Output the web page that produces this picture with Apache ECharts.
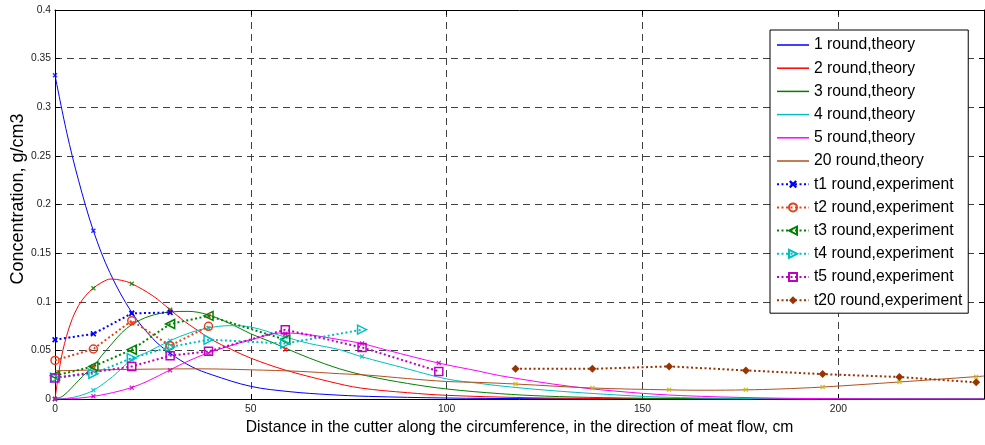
<!DOCTYPE html>
<html>
<head>
<meta charset="utf-8">
<script src="https://cdn.jsdelivr.net/npm/echarts@6/dist/echarts.min.js"></script>
<style>
  html, body { margin: 0; padding: 0; background: #fff; }
  #chart { width: 985px; height: 445px; }
</style>
</head>
<body>
<div id="chart"></div>
<script>
// ---------- theory curves (distance, cm -> concentration, g/cm3) ----------
const theory1X = [0, 3, 6, 9.8, 14, 19.6, 25, 29.4, 35, 40, 50, 60, 70, 80, 100, 120, 150, 237.2];
const theory1Y = [0.333, 0.274, 0.225, 0.173, 0.130, 0.089, 0.062, 0.047, 0.033, 0.025, 0.013, 0.0075, 0.0045, 0.0027, 0.001, 0.0004, 0.0001, 0];

const theory2X = [0, 1, 2, 4, 6, 8, 9.8, 12, 14.3, 17, 19.6, 25, 29.4, 33, 37, 40, 45, 50, 58.6, 70, 78, 90, 100, 120, 140, 170, 237.2];
const theory2Y = [0, 0.028, 0.05, 0.078, 0.096, 0.107, 0.114, 0.120, 0.1234, 0.122, 0.1186, 0.106, 0.0918, 0.080, 0.069, 0.061, 0.051, 0.042, 0.030, 0.018, 0.0113, 0.0065, 0.0038, 0.0014, 0.0005, 0.0001, 0];

const theory3X = [0, 2, 4, 6, 8, 9.8, 12, 14.7, 17, 19.6, 24, 29.4, 34, 39, 45, 50, 55, 59, 65, 72.7, 80, 90, 100, 113.6, 125, 140, 160, 190, 237.2];
const theory3Y = [0, 0.003, 0.0105, 0.019, 0.027, 0.0335, 0.045, 0.0576, 0.068, 0.0764, 0.085, 0.0895, 0.0901, 0.0867, 0.077, 0.067, 0.059, 0.052, 0.042, 0.031, 0.0235, 0.016, 0.0103, 0.0055, 0.003, 0.0014, 0.0005, 0.0001, 0];

const theory4X = [0, 3, 6, 9.8, 14.7, 19.6, 24, 29.4, 34.4, 39, 44.6, 50, 58.2, 65, 72.7, 78, 90, 100, 108.5, 113.6, 125.6, 140, 154.5, 175, 200, 237.2];
const theory4Y = [0, 0.0007, 0.003, 0.0089, 0.023, 0.0404, 0.049, 0.060, 0.068, 0.073, 0.0754, 0.074, 0.0644, 0.057, 0.0507, 0.0438, 0.031, 0.0206, 0.016, 0.0135, 0.009, 0.005, 0.002, 0.0006, 0.0001, 0];

const theory5X = [0, 5, 9.8, 14.7, 19.6, 24, 29.4, 34, 39, 45, 50, 58.2, 65, 72.7, 77.8, 85, 97.9, 108.5, 113.6, 131.5, 146.9, 160, 180, 200, 237.2];
const theory5Y = [0, 0.0005, 0.0027, 0.0065, 0.0118, 0.019, 0.030, 0.039, 0.0473, 0.055, 0.061, 0.068, 0.066, 0.061, 0.0576, 0.050, 0.037, 0.0284, 0.024, 0.013, 0.0068, 0.0035, 0.0012, 0.0003, 0];

const theory20X = [0, 20, 37, 50, 62.5, 72.7, 80, 90, 100, 108.5, 117.6, 137.2, 156.8, 166, 176.4, 185, 196, 215.6, 235.2, 237.2];
const theory20Y = [0.029, 0.0305, 0.031, 0.030, 0.0284, 0.026, 0.0245, 0.021, 0.018, 0.017, 0.0154, 0.0113, 0.0094, 0.0090, 0.0094, 0.0103, 0.0123, 0.0175, 0.0230, 0.0236];

// ---------- theory values at the sampling points ----------
const pts1X = [0, 9.8, 19.6, 29.4];
const pts1Y = [0.333, 0.173, 0.089, 0.047];
const pts2X = [0, 9.8, 19.6, 29.4];
const pts2Y = [0, 0.114, 0.1186, 0.0918];
const pts3X = [0, 9.8, 19.6, 29.4, 39.2, 58.8];
const pts3Y = [0, 0.0335, 0.078, 0.0905, 0.085, 0.051];
const pts4X = [0, 9.8, 19.6, 29.4, 39.2, 58.8, 78.4];
const pts4Y = [0, 0.0089, 0.0404, 0.060, 0.073, 0.064, 0.0438];
const pts5X = [0, 9.8, 19.6, 29.4, 39.2, 58.8, 78.4, 98];
const pts5Y = [0, 0.0027, 0.0115, 0.0295, 0.047, 0.067, 0.057, 0.037];
const pts20X = [117.6, 137.2, 156.8, 176.4, 196, 215.6, 235.2];
const pts20Y = [0.0154, 0.0113, 0.0096, 0.0096, 0.0123, 0.0175, 0.0228];

// ---------- measurements ----------
const t1X = [0, 9.8, 19.6, 29.4];
const t1Y = [0.061, 0.067, 0.088, 0.089];
const t2X = [0, 9.8, 19.6, 29.4, 39.2];
const t2Y = [0.0397, 0.0514, 0.0805, 0.0548, 0.0747];
const t3X = [0, 9.8, 19.6, 29.4, 39.2, 58.8];
const t3Y = [0.024, 0.0335, 0.0507, 0.0771, 0.0855, 0.061];
const t4X = [0, 9.8, 19.6, 29.4, 39.2, 58.8, 78.4];
const t4Y = [0.022, 0.026, 0.042, 0.0535, 0.061, 0.057, 0.0713];
const t5X = [0, 19.6, 29.4, 39.2, 58.8, 78.4, 98];
const t5Y = [0.0216, 0.0335, 0.0445, 0.049, 0.0713, 0.053, 0.0284];
const t20X = [117.6, 137.2, 156.8, 176.4, 196, 215.6, 235.2];
const t20Y = [0.0312, 0.031, 0.0335, 0.0294, 0.0256, 0.0226, 0.0171];

const theoryNames = ['1 round,theory', '2 round,theory', '3 round,theory', '4 round,theory', '5 round,theory', '20 round,theory'];
const expNames = ['t1 round,experiment', 't2 round,experiment', 't3 round,experiment', 't4 round,experiment', 't5 round,experiment', 't20 round,experiment'];

const xTitle = 'Distance in the cutter along the circumference, in the direction of meat flow, cm';
const yTitle = 'Concentration, g/cm3';
const xMax = 237.2;
const yTicks = [0, 0.05, 0.1, 0.15, 0.2, 0.25, 0.3, 0.35, 0.4];
const xTicks = [0, 50, 100, 150, 200];

// ---------- drawing ----------
const FONT = 'Liberation Sans, Arial, Helvetica, sans-serif';
const pairs = (xs, ys) => xs.map((x, i) => [x, ys[i]]);
const CROSS = 'path://M0,2L2,0L5,3L8,0L10,2L7,5L10,8L8,10L5,7L2,10L0,8L3,5Z';
const LINE_ICON = 'path://M0,0L32,0L32,1.5L0,1.5Z';

const theoryColors = ['#0000ff', '#ff0000', '#008000', '#00bfbf', '#ff00ff', '#b0501e'];
const ptsColors = ['#0000ff', '#008000', '#ff0000', '#00bfbf', '#bf00bf', '#bfbf00'];
const expColors = ['#0000ff', '#e5401a', '#008000', '#00bfbf', '#bf00bf', '#993300'];

const theoryData = [
  pairs(theory1X, theory1Y), pairs(theory2X, theory2Y), pairs(theory3X, theory3Y),
  pairs(theory4X, theory4Y), pairs(theory5X, theory5Y), pairs(theory20X, theory20Y)
];
const ptsData = [
  pairs(pts1X, pts1Y), pairs(pts2X, pts2Y), pairs(pts3X, pts3Y),
  pairs(pts4X, pts4Y), pairs(pts5X, pts5Y), pairs(pts20X, pts20Y)
];
const expData = [
  pairs(t1X, t1Y), pairs(t2X, t2Y), pairs(t3X, t3Y),
  pairs(t4X, t4Y), pairs(t5X, t5Y), pairs(t20X, t20Y)
];
const expSymbols = [
  { symbol: CROSS, size: 6, rotate: 0, filled: true },
  { symbol: 'circle', size: 8, rotate: 0, filled: false },
  { symbol: 'triangle', size: 9, rotate: 90, filled: false },
  { symbol: 'triangle', size: 9, rotate: -90, filled: false },
  { symbol: 'rect', size: 8, rotate: 0, filled: false },
  { symbol: 'diamond', size: 8, rotate: 0, filled: true }
];

const series = [];
theoryData.forEach((d, i) => {
  series.push({
    name: theoryNames[i], type: 'line', data: d, smooth: 0.35,
    symbol: 'none', z: 2,
    lineStyle: { width: 1, color: theoryColors[i] },
    itemStyle: { color: theoryColors[i] }
  });
});
ptsData.forEach((d, i) => {
  series.push({
    type: 'scatter', data: d, symbol: CROSS, symbolSize: 5, z: 3,
    itemStyle: { color: ptsColors[i] }
  });
});
expData.forEach((d, i) => {
  const s = expSymbols[i];
  series.push({
    name: expNames[i], type: 'line', data: d, z: 4,
    symbol: s.symbol, symbolSize: s.size, symbolRotate: s.rotate, showSymbol: true,
    lineStyle: { width: 2, type: [2, 2.5], color: expColors[i] },
    itemStyle: s.filled
      ? { color: expColors[i] }
      : { color: 'rgba(255,255,255,0)', borderColor: expColors[i], borderWidth: 1.5 }
  });
});

const legendData = theoryNames.map(n => ({ name: n, icon: LINE_ICON }))
  .concat(expNames.map(n => ({ name: n })));

const chart = echarts.init(document.getElementById('chart'), null, { renderer: 'canvas' });
chart.setOption({
  animation: false,
  backgroundColor: '#ffffff',
  textStyle: { fontFamily: FONT },
  grid: { left: 55, right: 1, top: 10, bottom: 46, containLabel: false },
  legend: {
    data: legendData,
    orient: 'vertical',
    left: 770, top: 30,
    itemWidth: 32, itemHeight: 10, itemGap: 7.2,
    padding: [7, 6, 5, 6],
    borderColor: '#000', borderWidth: 1, backgroundColor: '#fff',
    textStyle: { fontSize: 15.7, color: '#000', fontFamily: FONT },
    selectedMode: false
  },
  // vertical axis title, placed beside the tick labels
  graphic: [{
    type: 'text', x: 18, y: 199, rotation: Math.PI / 2, silent: true,
    style: {
      text: yTitle, fill: '#000', align: 'center', verticalAlign: 'middle',
      font: '18px ' + FONT
    }
  }],
  xAxis: [{
    type: 'value', min: 0, max: xMax, interval: 50,
    name: xTitle,
    nameLocation: 'middle', nameGap: 21,
    nameTextStyle: { fontSize: 15.7, color: '#000', fontFamily: FONT },
    axisLine: { show: true, onZero: false, lineStyle: { color: '#000', width: 1 } },
    axisTick: { show: true, inside: true, length: 5, lineStyle: { color: '#000' } },
    axisLabel: {
      fontSize: 10.3, color: '#222', margin: 5, showMaxLabel: false, fontFamily: FONT,
      formatter: v => (xTicks.indexOf(v) >= 0 ? String(v) : '')
    },
    splitLine: { show: true, lineStyle: { color: '#404040', width: 1, type: [7, 5] } }
  }, {
    type: 'value', min: 0, max: xMax, interval: 50, position: 'top',
    axisLine: { show: true, onZero: false, lineStyle: { color: '#000', width: 1 } },
    axisTick: { show: true, inside: true, length: 5, lineStyle: { color: '#000' } },
    axisLabel: { show: false }, splitLine: { show: false }
  }],
  yAxis: [{
    type: 'value', min: 0, max: 0.4, interval: 0.05,
    axisLine: { show: true, onZero: false, lineStyle: { color: '#000', width: 1 } },
    axisTick: { show: true, inside: true, length: 5, lineStyle: { color: '#000' } },
    axisLabel: {
      fontSize: 10.3, color: '#222', margin: 4, fontFamily: FONT,
      formatter: v => {
        const k = yTicks.findIndex(t => Math.abs(t - v) < 1e-9);
        return k >= 0 ? String(yTicks[k]) : '';
      }
    },
    splitLine: { show: true, lineStyle: { color: '#404040', width: 1, type: [7, 5] } }
  }, {
    type: 'value', min: 0, max: 0.4, interval: 0.05, position: 'right',
    axisLine: { show: true, onZero: false, lineStyle: { color: '#000', width: 1 } },
    axisTick: { show: true, inside: true, length: 5, lineStyle: { color: '#000' } },
    axisLabel: { show: false }, splitLine: { show: false }
  }],
  series: series
});
</script>
</body>
</html>
